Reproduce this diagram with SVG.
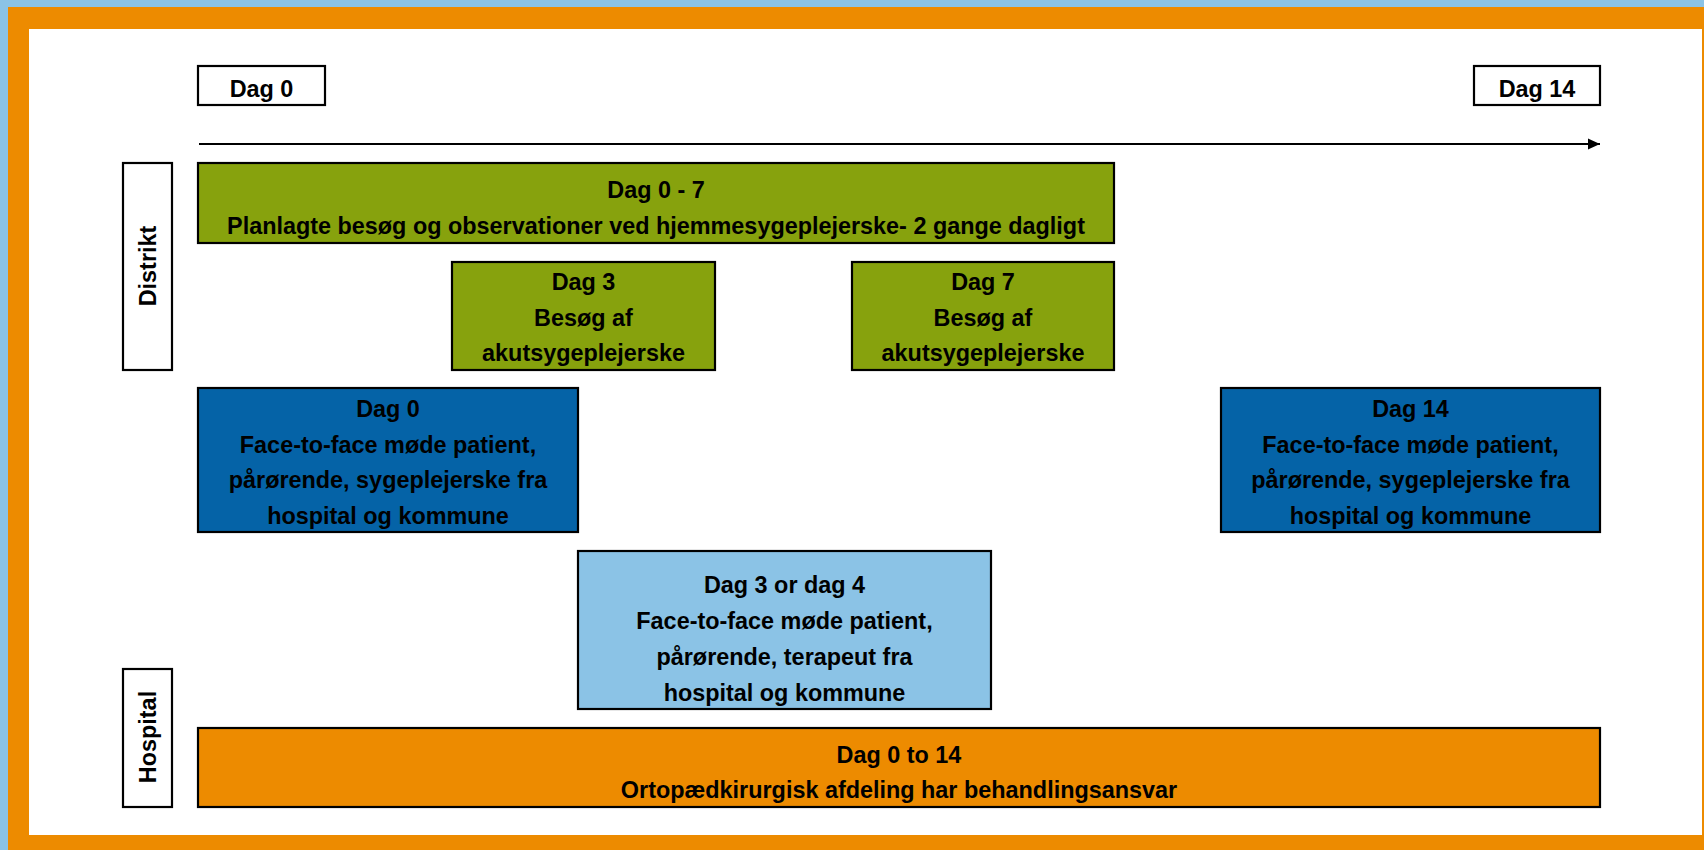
<svg xmlns="http://www.w3.org/2000/svg" width="1704" height="850" viewBox="0 0 1704 850">
<style>
.box{stroke:#000;stroke-width:2.2}
.t{font-family:"Liberation Sans",Arial,sans-serif;font-weight:bold;font-size:23.4px;fill:#000;text-anchor:middle}
.green{fill:#87A20D}
.dblue{fill:#0563A7}
.lblue{fill:#8BC3E6}
.orange{fill:#ED8B00}
.white{fill:#fff}
</style>
<defs>
<marker id="arr" markerUnits="userSpaceOnUse" markerWidth="13" markerHeight="12" refX="12" refY="6" orient="auto">
<path d="M0,0.5 L12,6 L0,11.5 z" fill="#000"/>
</marker>
</defs>
<rect x="0" y="0" width="1704" height="850" fill="#8BC3E6"/>
<rect x="8" y="7" width="1696" height="843" fill="#ED8B00"/>
<rect x="29" y="29" width="1673" height="806" fill="#fff"/>

<g id="connectors">
<line x1="199" y1="144" x2="1600" y2="144" stroke="#000" stroke-width="1.8" marker-end="url(#arr)"/>
</g>

<g id="hdr-dag0">
<rect class="box white" x="198" y="66" width="127" height="39"/>
<text class="t" x="261.5" y="97">Dag 0</text>
</g>
<g id="hdr-dag14">
<rect class="box white" x="1474" y="66" width="126" height="39"/>
<text class="t" x="1537" y="97">Dag 14</text>
</g>

<g id="lane-distrikt">
<rect class="box white" x="123" y="163" width="49" height="207"/>
<text class="t" transform="translate(156,266) rotate(-90)" x="0" y="0">Distrikt</text>
</g>
<g id="lane-hospital">
<rect class="box white" x="123" y="669" width="49" height="138"/>
<text class="t" transform="translate(156,737) rotate(-90)" x="0" y="0">Hospital</text>
</g>

<g id="dag0-7">
<rect class="box green" x="198" y="163" width="916" height="80"/>
<text class="t" x="656" y="198">Dag 0 - 7</text>
<text class="t" x="656" y="234">Planlagte besøg og observationer ved hjemmesygeplejerske- 2 gange dagligt</text>
</g>

<g id="dag3">
<rect class="box green" x="452" y="262" width="263" height="108"/>
<text class="t" x="583.5" y="290">Dag 3</text>
<text class="t" x="583.5" y="325.5">Besøg af</text>
<text class="t" x="583.5" y="361">akutsygeplejerske</text>
</g>

<g id="dag7">
<rect class="box green" x="852" y="262" width="262" height="108"/>
<text class="t" x="983" y="290">Dag 7</text>
<text class="t" x="983" y="325.5">Besøg af</text>
<text class="t" x="983" y="361">akutsygeplejerske</text>
</g>

<g id="ftf-dag0">
<rect class="box dblue" x="198" y="388" width="380" height="144"/>
<text class="t" x="388" y="417">Dag 0</text>
<text class="t" x="388" y="452.7">Face-to-face møde patient,</text>
<text class="t" x="388" y="488.3">pårørende, sygeplejerske fra</text>
<text class="t" x="388" y="524">hospital og kommune</text>
</g>

<g id="ftf-dag14">
<rect class="box dblue" x="1221" y="388" width="379" height="144"/>
<text class="t" x="1410.5" y="417">Dag 14</text>
<text class="t" x="1410.5" y="452.7">Face-to-face møde patient,</text>
<text class="t" x="1410.5" y="488.3">pårørende, sygeplejerske fra</text>
<text class="t" x="1410.5" y="524">hospital og kommune</text>
</g>

<g id="ftf-dag3-4">
<rect class="box lblue" x="578" y="551" width="413" height="158"/>
<text class="t" x="784.5" y="593.3">Dag 3 or dag 4</text>
<text class="t" x="784.5" y="629.3">Face-to-face møde patient,</text>
<text class="t" x="784.5" y="665">pårørende, terapeut fra</text>
<text class="t" x="784.5" y="700.7">hospital og kommune</text>
</g>

<g id="dag0-14">
<rect class="box orange" x="198" y="728" width="1402" height="79"/>
<text class="t" x="899" y="762.7">Dag 0 to 14</text>
<text class="t" x="899" y="798">Ortopædkirurgisk afdeling har behandlingsansvar</text>
</g>
</svg>
